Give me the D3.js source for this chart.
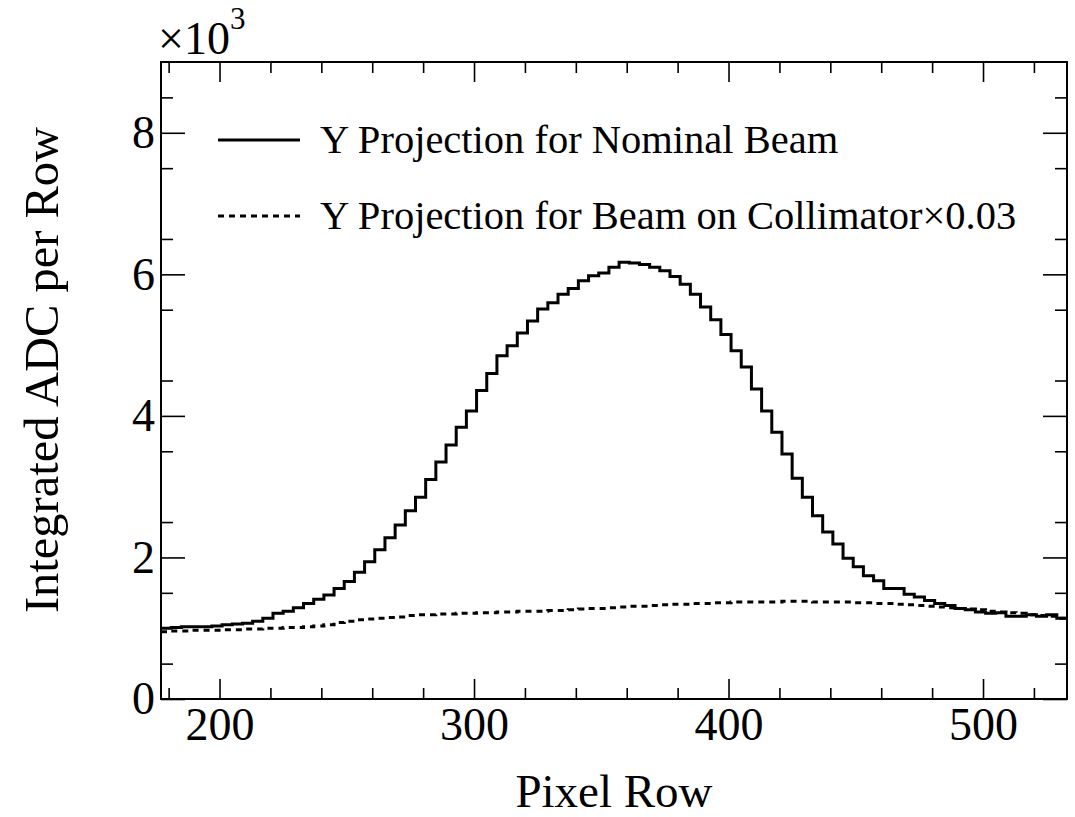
<!DOCTYPE html>
<html>
<head>
<meta charset="utf-8">
<script src="https://cdn.jsdelivr.net/npm/d3@7"></script>
<style>
  body { margin: 0; background: #fff; }
  text { font-family: 'Liberation Serif', 'Times New Roman', serif; fill: #000; }
</style>
</head>
<body>
<svg width="1075" height="817"></svg>
<script>
// histogram binning (pixel rows)
const binLow = 177
const binWidth = 4

// integrated ADC per bin, nominal beam
const nominal = [
  1000, 1010, 1020, 1020, 1020, 1030, 1050, 1060, 1070, 1100,
  1140, 1210, 1240, 1290, 1350, 1410, 1470, 1560, 1660, 1790,
  1940, 2110, 2280, 2460, 2660, 2850, 3100, 3350, 3590, 3840,
  4070, 4360, 4600, 4850, 4990, 5170, 5340, 5510, 5600, 5720,
  5800, 5910, 5980, 6020, 6100, 6170, 6160, 6140, 6100, 6050,
  5970, 5860, 5720, 5540, 5360, 5150, 4920, 4690, 4380, 4070,
  3770, 3460, 3120, 2850, 2590, 2360, 2190, 1990, 1870, 1740,
  1670, 1560, 1560, 1480, 1440, 1390, 1350, 1320, 1280, 1260,
  1230, 1210, 1220, 1170, 1170, 1190, 1170, 1190, 1140
]

// beam on collimator, already scaled by 0.03
const collimator = [
  950, 960, 960, 970, 970, 970, 980, 980, 990, 990,
  1000, 1000, 1010, 1010, 1020, 1030, 1050, 1080, 1100, 1120,
  1130, 1140, 1150, 1160, 1180, 1190, 1190, 1200, 1200, 1210,
  1210, 1220, 1220, 1230, 1230, 1240, 1240, 1240, 1250, 1250,
  1260, 1270, 1280, 1280, 1290, 1300, 1310, 1310, 1320, 1330,
  1340, 1340, 1350, 1350, 1360, 1360, 1370, 1370, 1370, 1370,
  1370, 1380, 1380, 1380, 1370, 1370, 1370, 1370, 1360, 1360,
  1350, 1350, 1340, 1330, 1320, 1310, 1300, 1290, 1280, 1270,
  1260, 1240, 1230, 1220, 1210, 1190, 1180, 1170, 1140
]

const xMajor = [200, 300, 400, 500]
const yMajor = [0, 2000, 4000, 6000, 8000]
const legendLabels = ['Y Projection for Nominal Beam', 'Y Projection for Beam on Collimator\u00d70.03']

const svg = d3.select('svg')
const frame = { left: 161, top: 62, right: 1067, bottom: 699 }
const nBins = nominal.length

const x = d3.scaleLinear().
  domain([binLow, binLow + nBins * binWidth]).
  range([frame.left, frame.right])

const y = d3.scaleLinear().
  domain([0, 9000]).
  range([frame.bottom, frame.top])

const xMinor = d3.range(180, binLow + nBins * binWidth, 20).filter(v => !xMajor.includes(v))
const yMinor = d3.range(500, 9000, 1000)

// ticks, ROOT style, pointing into the frame on all sides
function ticks (axis, transform, size, values, fmt, pad) {
  const g = svg.append('g').
    attr('transform', transform).
    call(axis.tickValues(values).tickSize(-size).tickPadding(pad || 0).tickFormat(fmt || ''))
  g.select('.domain').remove()
  g.selectAll('line').attr('stroke', '#000').attr('stroke-width', 1.6)
  g.selectAll('text').attr('font-size', 46).attr('fill', '#000').
    style('font-family', "'Liberation Serif', serif")
  return g
}

ticks(d3.axisBottom(x), `translate(0,${frame.bottom})`, 20, xMajor, d => d, 8)
ticks(d3.axisBottom(x), `translate(0,${frame.bottom})`, 11, xMinor)
ticks(d3.axisTop(x), `translate(0,${frame.top})`, 20, xMajor)
ticks(d3.axisTop(x), `translate(0,${frame.top})`, 11, xMinor)
ticks(d3.axisLeft(y), `translate(${frame.left},0)`, 24, yMajor, d => d / 1000, 6)
ticks(d3.axisLeft(y), `translate(${frame.left},0)`, 12, yMinor)
ticks(d3.axisRight(y), `translate(${frame.right},0)`, 24, yMajor)
ticks(d3.axisRight(y), `translate(${frame.right},0)`, 12, yMinor)

// histograms
svg.append('clipPath').attr('id', 'clip').
  append('rect').
  attr('x', frame.left).attr('y', frame.top).
  attr('width', frame.right - frame.left).attr('height', frame.bottom - frame.top)

const steps = values => values.map((v, i) => [binLow + i * binWidth, v]).
  concat([[binLow + values.length * binWidth, values[values.length - 1]]])

const line = d3.line().
  x(d => x(d[0])).
  y(d => y(d[1])).
  curve(d3.curveStepAfter)

svg.append('path').
  attr('clip-path', 'url(#clip)').
  attr('d', line(steps(collimator))).
  attr('fill', 'none').
  attr('stroke', '#000').
  attr('stroke-width', 3).
  attr('stroke-dasharray', '6,5')

svg.append('path').
  attr('clip-path', 'url(#clip)').
  attr('d', line(steps(nominal))).
  attr('fill', 'none').
  attr('stroke', '#000').
  attr('stroke-width', 3)

// frame
svg.append('rect').
  attr('x', frame.left).attr('y', frame.top).
  attr('width', frame.right - frame.left).attr('height', frame.bottom - frame.top).
  attr('fill', 'none').
  attr('stroke', '#000').
  attr('stroke-width', 2)

// legend
const legend = svg.append('g')
legendLabels.forEach((label, i) => {
  const ly = 140 + i * 76
  legend.append('line').
    attr('x1', 218).attr('x2', 300).
    attr('y1', ly).attr('y2', ly).
    attr('stroke', '#000').
    attr('stroke-width', 3).
    attr('stroke-dasharray', i === 0 ? null : '6,5')
  legend.append('text').
    attr('x', 320).attr('y', ly + 13).
    attr('font-size', 40.5).
    text(label)
})

// axis titles
svg.append('text').
  attr('x', (frame.left + frame.right) / 2).
  attr('y', 807).
  attr('text-anchor', 'middle').
  attr('font-size', 47).
  text('Pixel Row')

svg.append('text').
  attr('transform', 'translate(58,370) rotate(-90)').
  attr('text-anchor', 'middle').
  attr('font-size', 48.5).
  text('Integrated ADC per Row')

// exponent
const expo = svg.append('text').
  attr('x', 158).attr('y', 54).
  attr('font-size', 46)
expo.append('tspan').text('\u00d710')
expo.append('tspan').attr('dy', -25).attr('font-size', 31).text('3')
</script>
</body>
</html>
